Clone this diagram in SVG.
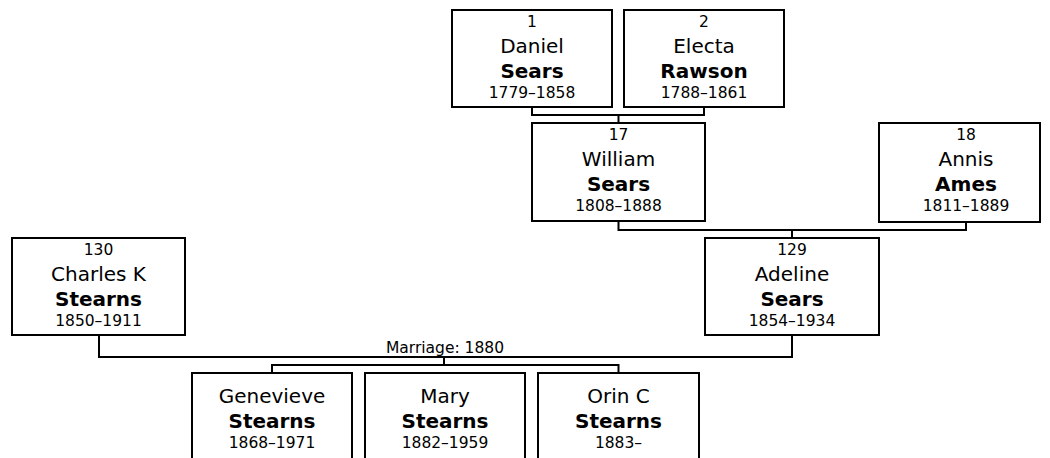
<svg xmlns="http://www.w3.org/2000/svg" width="1050" height="458" viewBox="0 0 1050 458">
<style>
.box{fill:#fff;stroke:#000;stroke-width:2}
.ln{fill:none;stroke:#000;stroke-width:2}
text{font-family:"DejaVu Sans",Verdana,sans-serif;text-anchor:middle;fill:#000}
.num{font-size:15.5px}
.fn{font-size:20px}
.sn{font-size:20px;font-weight:bold}
.dt{font-size:15.5px}
.mr{font-size:15.5px}
</style>
<rect width="1050" height="458" fill="#fff"/>
<g id="connectors">
<path class="ln" d="M532 107V115H704V107M618.5 115V123"/>
<path class="ln" d="M618.5 221V230H966V222M792 230V238"/>
<path class="ln" d="M99 335V357H792V335"/>
<path class="ln" d="M444 357V365M272 373V365H618.5V373"/>
<text class="mr" x="445" y="353">Marriage: 1880</text>
</g>
<g id="n1"><rect class="box" x="452" y="10" width="160" height="97"/>
<text class="num" x="532" y="27">1</text><text class="fn" x="532" y="53">Daniel</text><text class="sn" x="532" y="78">Sears</text><text class="dt" x="532" y="98">1779–1858</text></g>
<g id="n2"><rect class="box" x="624" y="10" width="160" height="97"/>
<text class="num" x="704" y="27">2</text><text class="fn" x="704" y="53">Electa</text><text class="sn" x="704" y="78">Rawson</text><text class="dt" x="704" y="98">1788–1861</text></g>
<g id="n17"><rect class="box" x="532" y="123" width="173" height="98"/>
<text class="num" x="618.5" y="140">17</text><text class="fn" x="618.5" y="166">William</text><text class="sn" x="618.5" y="191">Sears</text><text class="dt" x="618.5" y="211">1808–1888</text></g>
<g id="n18"><rect class="box" x="879" y="123" width="161" height="99"/>
<text class="num" x="966" y="140">18</text><text class="fn" x="966" y="166">Annis</text><text class="sn" x="966" y="191">Ames</text><text class="dt" x="966" y="211">1811–1889</text></g>
<g id="n130"><rect class="box" x="12" y="238" width="173" height="97"/>
<text class="num" x="98.5" y="255">130</text><text class="fn" x="98.5" y="281">Charles K</text><text class="sn" x="98.5" y="306">Stearns</text><text class="dt" x="98.5" y="326">1850–1911</text></g>
<g id="n129"><rect class="box" x="705" y="238" width="174" height="97"/>
<text class="num" x="792" y="255">129</text><text class="fn" x="792" y="281">Adeline</text><text class="sn" x="792" y="306">Sears</text><text class="dt" x="792" y="326">1854–1934</text></g>
<g id="c1"><rect class="box" x="192" y="373" width="160" height="98"/>
<text class="fn" x="272" y="403">Genevieve</text><text class="sn" x="272" y="428">Stearns</text><text class="dt" x="272" y="448">1868–1971</text></g>
<g id="c2"><rect class="box" x="365" y="373" width="160" height="98"/>
<text class="fn" x="445" y="403">Mary</text><text class="sn" x="445" y="428">Stearns</text><text class="dt" x="445" y="448">1882–1959</text></g>
<g id="c3"><rect class="box" x="538" y="373" width="161" height="98"/>
<text class="fn" x="618.5" y="403">Orin C</text><text class="sn" x="618.5" y="428">Stearns</text><text class="dt" x="618.5" y="448">1883–</text></g>
</svg>
